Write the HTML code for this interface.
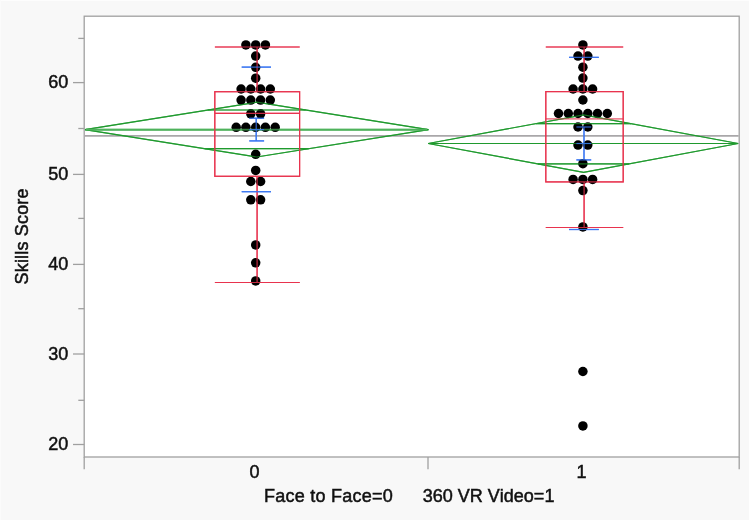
<!DOCTYPE html>
<html><head><meta charset="utf-8"><title>Skills Score</title>
<style>
html,body{margin:0;padding:0;background:#f8f8f8;}
body{width:749px;height:520px;overflow:hidden;}
svg{display:block;}
text{font-family:"Liberation Sans",sans-serif;font-size:18px;fill:#111111;stroke:#111111;stroke-width:0.5px;font-kerning:none;}
</style></head><body>
<svg width="749" height="520" viewBox="0 0 749 520">
<rect x="0" y="0" width="749" height="520" fill="#f8f8f8"/>
<rect x="0" y="0" width="749" height="1" fill="#fdfdfd"/><rect x="0" y="0" width="1" height="520" fill="#fbfbfb"/>
<rect x="84.2" y="16.2" width="655" height="440.8" fill="#ffffff"/>
<g fill="none" stroke-width="1.2">
<path d="M84.8 135.9L738.6 135.9" stroke="#a9a7a9" stroke-width="1.9"/>
<g stroke="#1f9a2e"><path d="M85 129.6L256.7 102.2L428.4 129.6L256.7 157.0Z"/><path d="M85 129.6L428.4 129.6"/><path d="M207.8 110.0L305.6 110.0"/><path d="M204.7 148.7L308.7 148.7"/><path d="M86 129.6L427 129.6" stroke="#4fb25c" stroke-width="1.9"/><path d="M428.2 143.5L583.6 114.8L738.2 143.5L583.6 172.4Z"/><path d="M428.2 143.5L738.2 143.5"/><path d="M536.0 123.6L631.0 123.6"/><path d="M537.9 163.9L629.1 163.9"/></g>
<g stroke="#e8334e"><rect x="214.8" y="91.7" width="84.8" height="84.6"/><path d="M214.8 113.4L299.6 113.4"/><path d="M214.9 47L299.7 47"/><path d="M214.9 282.5L299.7 282.5"/><path d="M257.1 47L257.1 91.7"/><path d="M257.1 176.3L257.1 282.5"/><rect x="545.8" y="91.6" width="77.4" height="90.3"/><path d="M545.8 118.9L623.2 118.9" opacity="0.55"/><path d="M545.8 47L623.2 47"/><path d="M545.8 227.5L623.2 227.5"/><path d="M584.1 47L584.1 91.6"/><path d="M584.1 181.9L584.1 227.5"/></g>
<g stroke="#3a76f2"><path d="M241.7 67.1L271 67.1"/><path d="M241.7 191.7L271 191.7"/><path d="M256.2 118.2L256.2 140.9"/><path d="M249.3 118.2L264.1 118.2"/><path d="M249.3 140.9L264.1 140.9"/><path d="M249.3 129.6L264.1 129.6"/><path d="M569 57.35L598.8 57.35"/><path d="M569 229.5L598.8 229.5"/><path d="M584 127L584 159.9"/><path d="M576.4 127L591.2 127"/><path d="M576.4 159.9L591.2 159.9"/><path d="M576.4 143.5L591.2 143.5"/></g>
</g>
<g fill="#000000"><circle cx="245.9" cy="44.9" r="4.75"/><circle cx="255.7" cy="44.9" r="4.75"/><circle cx="265.4" cy="44.9" r="4.75"/><circle cx="255.7" cy="56.1" r="4.75"/><circle cx="255.7" cy="67.3" r="4.75"/><circle cx="255.7" cy="78.2" r="4.75"/><circle cx="241.1" cy="89.0" r="4.75"/><circle cx="250.8" cy="89.0" r="4.75"/><circle cx="260.6" cy="89.0" r="4.75"/><circle cx="270.3" cy="89.0" r="4.75"/><circle cx="241.1" cy="100.1" r="4.75"/><circle cx="250.8" cy="100.1" r="4.75"/><circle cx="260.6" cy="100.1" r="4.75"/><circle cx="270.3" cy="100.1" r="4.75"/><circle cx="250.8" cy="113.8" r="4.75"/><circle cx="260.6" cy="113.8" r="4.75"/><circle cx="236.2" cy="127.3" r="4.75"/><circle cx="245.9" cy="127.3" r="4.75"/><circle cx="255.7" cy="127.3" r="4.75"/><circle cx="265.4" cy="127.3" r="4.75"/><circle cx="275.2" cy="127.3" r="4.75"/><circle cx="255.7" cy="154.3" r="4.75"/><circle cx="255.7" cy="170.4" r="4.75"/><circle cx="250.8" cy="181.5" r="4.75"/><circle cx="260.6" cy="181.5" r="4.75"/><circle cx="250.8" cy="199.8" r="4.75"/><circle cx="260.6" cy="199.8" r="4.75"/><circle cx="255.7" cy="244.9" r="4.75"/><circle cx="255.7" cy="262.8" r="4.75"/><circle cx="255.7" cy="280.9" r="4.75"/><circle cx="582.9" cy="44.9" r="4.75"/><circle cx="578.0" cy="56.1" r="4.75"/><circle cx="587.8" cy="56.1" r="4.75"/><circle cx="582.9" cy="67.2" r="4.75"/><circle cx="582.9" cy="78.1" r="4.75"/><circle cx="573.1" cy="89.0" r="4.75"/><circle cx="582.9" cy="89.0" r="4.75"/><circle cx="592.6" cy="89.0" r="4.75"/><circle cx="582.9" cy="100.0" r="4.75"/><circle cx="558.5" cy="113.5" r="4.75"/><circle cx="568.3" cy="113.5" r="4.75"/><circle cx="578.0" cy="113.5" r="4.75"/><circle cx="587.8" cy="113.5" r="4.75"/><circle cx="597.5" cy="113.5" r="4.75"/><circle cx="607.3" cy="113.5" r="4.75"/><circle cx="578.0" cy="127.0" r="4.75"/><circle cx="587.8" cy="127.0" r="4.75"/><circle cx="578.0" cy="145.1" r="4.75"/><circle cx="587.8" cy="145.1" r="4.75"/><circle cx="582.9" cy="163.7" r="4.75"/><circle cx="573.1" cy="179.4" r="4.75"/><circle cx="582.9" cy="179.4" r="4.75"/><circle cx="592.6" cy="179.4" r="4.75"/><circle cx="582.9" cy="190.6" r="4.75"/><circle cx="582.9" cy="226.9" r="4.75"/><circle cx="582.9" cy="371.5" r="4.75"/><circle cx="582.9" cy="425.9" r="4.75"/></g>
<g fill="none" stroke-width="1.2"><g stroke="#1f9a2e" opacity="0.7"><path d="M85 129.6L256.7 102.2L428.4 129.6L256.7 157.0Z"/><path d="M85 129.6L428.4 129.6"/><path d="M207.8 110.0L305.6 110.0"/><path d="M204.7 148.7L308.7 148.7"/><path d="M86 129.6L427 129.6" stroke="#4fb25c" stroke-width="1.9"/><path d="M428.2 143.5L583.6 114.8L738.2 143.5L583.6 172.4Z"/><path d="M428.2 143.5L738.2 143.5"/><path d="M536.0 123.6L631.0 123.6"/><path d="M537.9 163.9L629.1 163.9"/></g><g stroke="#e8334e" opacity="0.85"><rect x="214.8" y="91.7" width="84.8" height="84.6"/><path d="M214.8 113.4L299.6 113.4"/><path d="M214.9 47L299.7 47"/><path d="M214.9 282.5L299.7 282.5"/><path d="M257.1 47L257.1 91.7"/><path d="M257.1 176.3L257.1 282.5"/><rect x="545.8" y="91.6" width="77.4" height="90.3"/><path d="M545.8 118.9L623.2 118.9" opacity="0.55"/><path d="M545.8 47L623.2 47"/><path d="M545.8 227.5L623.2 227.5"/><path d="M584.1 47L584.1 91.6"/><path d="M584.1 181.9L584.1 227.5"/></g><g stroke="#3a76f2" opacity="0.85"><path d="M241.7 67.1L271 67.1"/><path d="M241.7 191.7L271 191.7"/><path d="M256.2 118.2L256.2 140.9"/><path d="M249.3 118.2L264.1 118.2"/><path d="M249.3 140.9L264.1 140.9"/><path d="M249.3 129.6L264.1 129.6"/><path d="M569 57.35L598.8 57.35"/><path d="M569 229.5L598.8 229.5"/><path d="M584 127L584 159.9"/><path d="M576.4 127L591.2 127"/><path d="M576.4 159.9L591.2 159.9"/><path d="M576.4 143.5L591.2 143.5"/></g></g>
<g fill="none" stroke="#a0a0a0" stroke-width="1.3">
<rect x="84.2" y="16.2" width="655" height="440.8"/>
<path d="M73 82.6L84.2 82.6"/><path d="M73 174.4L84.2 174.4"/><path d="M73 264.4L84.2 264.4"/><path d="M73 354.0L84.2 354.0"/><path d="M73 444.5L84.2 444.5"/><path d="M78.3 38.4L84.2 38.4"/><path d="M78.3 128.5L84.2 128.5"/><path d="M78.3 218.4L84.2 218.4"/><path d="M78.3 308.7L84.2 308.7"/><path d="M78.3 400.3L84.2 400.3"/><path d="M84.2 457L84.2 469.2"/><path d="M428 457L428 469.2"/><path d="M739.2 457L739.2 469.2"/>
</g>
<g><text x="68.3" y="88.3" text-anchor="end">60</text><text x="68.3" y="180.1" text-anchor="end">50</text><text x="68.3" y="270.1" text-anchor="end">40</text><text x="68.3" y="359.7" text-anchor="end">30</text><text x="68.3" y="450.2" text-anchor="end">20</text><text x="254.4" y="478.2" text-anchor="middle">0</text><text x="581.4" y="478.2" text-anchor="middle">1</text><text x="264.1" y="502.3" letter-spacing="0.23">Face to Face=0</text><text x="422.8" y="502">360 VR Video=1</text><text transform="translate(27.5 284.4) rotate(-90)" letter-spacing="0.17">Skills Score</text></g>
</svg>
</body></html>
